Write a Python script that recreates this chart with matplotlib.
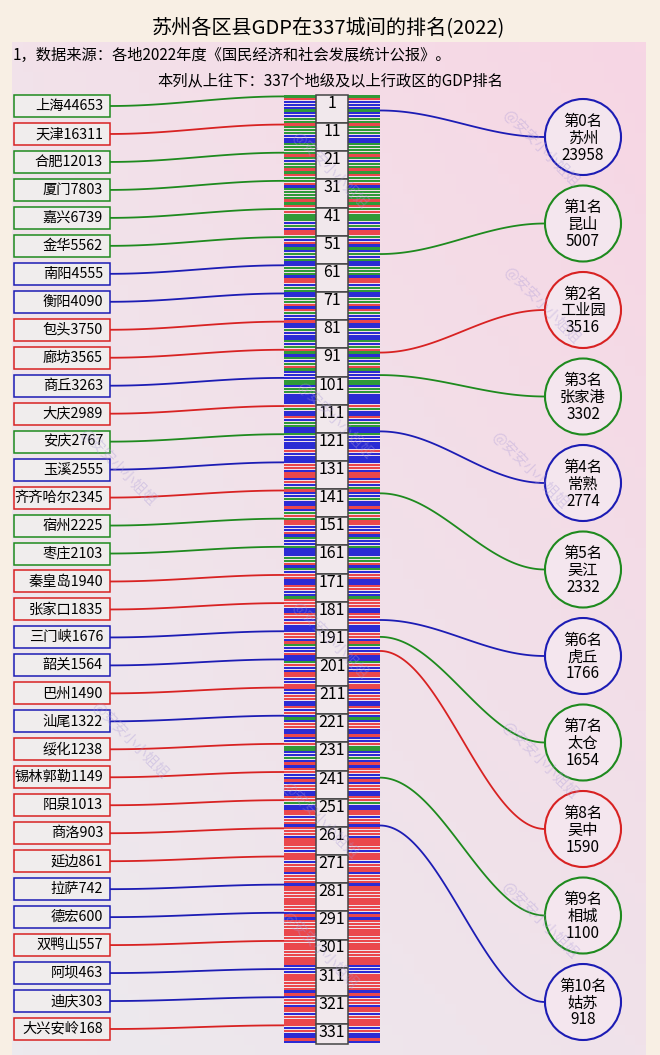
import numpy as np
import matplotlib.pyplot as plt
from matplotlib.patches import Rectangle, Circle

plt.rcParams['font.family'] = ['Noto Sans CJK SC', 'DejaVu Sans']

# row colours of the 337 cities, top to bottom, in blocks of ten (r / g / b)
region_blocks = [
    "grbbbgbbgg", "rgggbbbggg", "grgbggrgrg", "grbggggrgr", "grgggbgbrr",
    "gbrbgbgbgb", "bgggbrrbgg", "bbggrbrgbb", "rbbgbbbgbg", "rgbgbgrgbb",
    "bggbggbbbb", "rgbbrbggbb", "gbbbbbrbbb", "brrbrrbrbg", "rbbgbbrbgr",
    "grrbbrbgbb", "gbbbggrbgb", "rrbbrrbbgr", "rrbbrrbrbb", "brrbrgbbrb",
    "bgrbbrrbbr", "rbbrrbbrbr", "bgbrrbbrbb", "rggbbgbrbr", "rbbrbrrbbr",
    "rgbbrrbrrb", "rrrbrrrrbr", "rrbrrrbrrr", "brrrrrrrrr", "brbrrrrrrr",
    "rrrrrrrrrb", "bbrrrrrrbr", "brrbrrbrrr", "rbrbbrb",
]

# cities at ranks 1, 11, 21, ... 331
left_names = ['上海', '天津', '合肥', '厦门', '嘉兴', '金华', '南阳', '衡阳', '包头', '廊坊',
              '商丘', '大庆', '安庆', '玉溪', '齐齐哈尔', '宿州', '枣庄', '秦皇岛', '张家口', '三门峡',
              '韶关', '巴州', '汕尾', '绥化', '锡林郭勒', '阳泉', '商洛', '延边', '拉萨', '德宏',
              '双鸭山', '阿坝', '迪庆', '大兴安岭']
left_gdp = [44653, 16311, 12013, 7803, 6739, 5562, 4555, 4090, 3750, 3565,
            3263, 2989, 2767, 2555, 2345, 2225, 2103, 1940, 1835, 1676,
            1564, 1490, 1322, 1238, 1149, 1013, 903, 861, 742, 600,
            557, 463, 303, 168]

# Suzhou and its districts
sz_names = ['苏州', '昆山', '工业园', '张家港', '常熟', '吴江', '虎丘', '太仓', '吴中', '相城', '姑苏']
sz_gdp = [23958, 5007, 3516, 3302, 2774, 2332, 1766, 1654, 1590, 1100, 918]
sz_rank = [6, 57, 92, 100, 120, 142, 187, 193, 198, 243, 260]
sz_color = ['b', 'g', 'r', 'g', 'b', 'g', 'b', 'g', 'r', 'g', 'b']

stripe_col = {'r': '#ea474c', 'g': '#2f9a38', 'b': '#2b2bd4'}
line_col = {'r': '#d82222', 'g': '#1e8a1e', 'b': '#1c1cb4'}

row_codes = "".join(region_blocks)
n = len(row_codes)

# layout (pixels)
W, H = 660, 1055
top, rh = 95.0, 2.815
xl0, xl1, xn1, xr1 = 284, 316, 348, 380


def row_y(r):
    return top + (np.asarray(r) - 0.5) * rh


def s_curve(ax, x0, y0, x1, y1, c):
    t = np.linspace(0, 1, 80)
    ax.plot(x0 + (x1 - x0) * t, y0 + (y1 - y0) * (1 - np.cos(np.pi * t)) / 2,
            color=c, lw=1.3, zorder=3, solid_capstyle='butt')


fig = plt.figure(figsize=(W / 100, H / 100), dpi=100)
fig.patch.set_facecolor('#f8efe4')
ax = fig.add_axes([0, 0, 1, 1])
ax.set_xlim(0, W)
ax.set_ylim(H, 0)
ax.axis('off')

# pink background panel
gx, gy = np.meshgrid(np.linspace(0, 1, 60), np.linspace(0, 1, 100))
c_tl = np.array([242, 226, 234]) / 255
c_tr = np.array([247, 214, 228]) / 255
c_bl = np.array([236, 234, 238]) / 255
c_br = np.array([240, 226, 234]) / 255
grad = ((1 - gx) * (1 - gy))[..., None] * c_tl + (gx * (1 - gy))[..., None] * c_tr \
    + ((1 - gx) * gy)[..., None] * c_bl + (gx * gy)[..., None] * c_br
ax.imshow(grad, extent=[12, 646, H, 42], aspect='auto', zorder=0)

# titles
ax.text(W / 2 - 2, 29, '苏州各区县GDP在337城间的排名(2022)', ha='center', va='center', fontsize=14.5)
ax.text(13, 55, '1，数据来源：各地2022年度《国民经济和社会发展统计公报》。', ha='left', va='center', fontsize=11)
ax.text(W / 2, 81, '本列从上往下：337个地级及以上行政区的GDP排名', ha='center', va='center', fontsize=11)

# striped rank columns
ranks = np.arange(1, n + 1)
cols = [stripe_col[c] for c in row_codes]
for x0, x1 in [(xl0, xl1), (xn1, xr1)]:
    ax.barh(row_y(ranks), x1 - x0, left=x0, height=rh * 0.8, color=cols, zorder=2)

# number column
for r in range(1, n + 1, 10):
    k = min(10, n - r + 1)
    ax.add_patch(Rectangle((xl1, top + (r - 1) * rh), xn1 - xl1, k * rh,
                           facecolor='#f1e8ec', edgecolor='#444444', lw=1.1, zorder=3))
    ax.text((xl1 + xn1) / 2, top + (r - 1) * rh, str(r), ha='center', va='top',
            fontsize=11.5, zorder=4)

# left city boxes
box_y = np.linspace(106, 1029, len(left_names))
for i, (name, g) in enumerate(zip(left_names, left_gdp)):
    r = 1 + 10 * i
    code = row_codes[r - 1]
    ax.add_patch(Rectangle((14, box_y[i] - 11), 96, 22, facecolor='#f0eded',
                           edgecolor=line_col[code], lw=1.1, zorder=3))
    ax.text(103, box_y[i], f'{name}{g}', ha='right', va='center', fontsize=10.3, zorder=4)
    s_curve(ax, 110, box_y[i], xl0, row_y(r), line_col[code])

# Suzhou circles
circ_y = np.linspace(137, 1002, len(sz_names))
for i in range(len(sz_names)):
    c = line_col[sz_color[i]]
    s_curve(ax, xr1, row_y(sz_rank[i]), 545, circ_y[i], c)
    ax.add_patch(Circle((583, circ_y[i]), 38, facecolor='#f4e6ee', edgecolor=c, lw=1.5, zorder=3))
    ax.text(583, circ_y[i] + 1, f'第{i}名\n{sz_names[i]}\n{sz_gdp[i]}', ha='center', va='center',
            fontsize=11, linespacing=1.0, zorder=4)

# watermark
for wx, wy in [(541, 148), (542, 305), (530, 470), (540, 760), (540, 920),
               (118, 467), (130, 740), (330, 170), (335, 420), (330, 640), (320, 820), (320, 950)]:
    ax.text(wx, wy, '@安安小小姐姐', rotation=-45, ha='center', va='center', fontsize=10.5,
            color='#a898d8', alpha=0.35, zorder=5)

fig.savefig('out.png', dpi=100, facecolor=fig.get_facecolor())
